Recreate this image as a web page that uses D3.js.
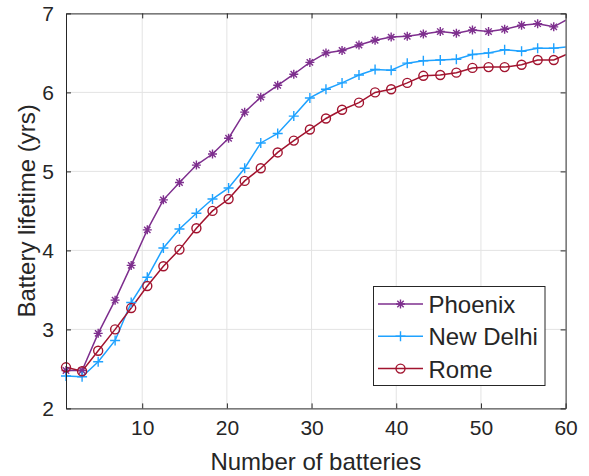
<!DOCTYPE html>
<html>
<head>
<meta charset="utf-8">
<script src="https://cdn.jsdelivr.net/npm/d3@7"></script>
<style>
  body { margin: 0; background: #fff; }
  text { font-family: "Liberation Sans", Arial, sans-serif; fill: #262626; }
</style>
</head>
<body>
<script>

const svgWidth = 589;
const svgHeight = 476;

// plot box edges (pixels)
const box = { left: 66, right: 565.6, top: 13.4, bottom: 408.4 };

// Data
const batteries = [1, 2.9, 4.8, 6.8, 8.7, 10.6, 12.5, 14.4, 16.4, 18.3, 20.2, 22.1, 24.0, 26.0, 27.9, 29.8,
                   31.7, 33.6, 35.6, 37.5, 39.4, 41.3, 43.2, 45.2, 47.1, 49.0, 50.9, 52.8, 54.8, 56.7, 58.6, 60.5];
const phoenix = [2.48, 2.48, 2.95, 3.37, 3.81, 4.26, 4.64, 4.86, 5.08, 5.22, 5.42, 5.75, 5.94, 6.09, 6.23, 6.38,
                 6.50, 6.53, 6.60, 6.66, 6.70, 6.71, 6.74, 6.77, 6.75, 6.79, 6.77, 6.80, 6.85, 6.87, 6.83, 6.94];
const newDelhi = [2.41, 2.40, 2.59, 2.86, 3.34, 3.66, 4.03, 4.27, 4.47, 4.65, 4.79, 5.04, 5.36, 5.48, 5.70, 5.93,
                  6.04, 6.12, 6.22, 6.29, 6.28, 6.37, 6.40, 6.41, 6.42, 6.48, 6.50, 6.54, 6.52, 6.56, 6.56, 6.58];
const rome = [2.52, 2.47, 2.73, 3.00, 3.27, 3.55, 3.80, 4.01, 4.28, 4.50, 4.65, 4.88, 5.04, 5.24, 5.39, 5.53,
              5.67, 5.78, 5.87, 6.00, 6.04, 6.12, 6.21, 6.22, 6.25, 6.31, 6.32, 6.32, 6.35, 6.41, 6.41, 6.50];

const xTicks = [10, 20, 30, 40, 50, 60];
const yTicks = [2, 3, 4, 5, 6, 7];

const series = [
  { name: "Phoenix", values: phoenix, color: "#7E2F8E", marker: "star" },
  { name: "New Delhi", values: newDelhi, color: "#1FA2FF", marker: "plus" },
  { name: "Rome", values: rome, color: "#A2142F", marker: "circle" }
];

const svg = d3.select("body")
  .append("svg")
  .attr("width", svgWidth)
  .attr("height", svgHeight);

const xScale = d3.scaleLinear().domain([1, 60]).range([box.left, box.right]);
const yScale = d3.scaleLinear().domain([2, 7]).range([box.bottom, box.top]);

// grid
const grid = svg.append("g").attr("stroke", "#e3e3e3").attr("stroke-width", 1);
grid.selectAll(".gx").data(xTicks.slice(0, -1)).enter().append("line")
  .attr("x1", d => xScale(d)).attr("x2", d => xScale(d))
  .attr("y1", box.top).attr("y2", box.bottom);
grid.selectAll(".gy").data(yTicks.slice(1, -1)).enter().append("line")
  .attr("x1", box.left).attr("x2", box.right)
  .attr("y1", d => yScale(d)).attr("y2", d => yScale(d));

// clip to the box
svg.append("clipPath").attr("id", "clip")
  .append("rect")
  .attr("x", box.left).attr("y", box.top)
  .attr("width", box.right - box.left).attr("height", box.bottom - box.top);

const line = d3.line()
  .x((d, i) => xScale(batteries[i]))
  .y(d => yScale(d));

function drawMarker(g, type, color) {
  if (type === "circle") {
    g.append("circle").attr("r", 4.5).attr("fill", "none")
      .attr("stroke", color).attr("stroke-width", 1.4);
  } else if (type === "plus") {
    g.append("path").attr("d", "M-5,0H5M0,-5V5")
      .attr("stroke", color).attr("stroke-width", 1.4);
  } else {
    g.append("path").attr("d", "M-4.5,0H4.5M0,-4.5V4.5M-3.2,-3.2L3.2,3.2M-3.2,3.2L3.2,-3.2")
      .attr("stroke", color).attr("stroke-width", 1.4);
  }
}

const plotArea = svg.append("g").attr("clip-path", "url(#clip)");

series.forEach(s => {
  plotArea.append("path")
    .datum(s.values)
    .attr("d", line)
    .attr("fill", "none")
    .attr("stroke", s.color)
    .attr("stroke-width", 1.5);
});

// markers drawn after lines, only those inside the x range
series.forEach(s => {
  s.values.forEach((v, i) => {
    if (batteries[i] > 60) return;
    const g = svg.append("g")
      .attr("transform", `translate(${xScale(batteries[i])},${yScale(v)})`);
    drawMarker(g, s.marker, s.color);
  });
});

// axes (box with inward ticks on all sides)
const axisColor = "#262626";
const tickLen = 5;

const bottomAxis = d3.axisBottom(xScale).tickValues(xTicks).tickSize(-tickLen).tickSizeOuter(0).tickPadding(12);
const topAxis = d3.axisTop(xScale).tickValues(xTicks).tickSize(-tickLen).tickSizeOuter(0).tickFormat("");
const leftAxis = d3.axisLeft(yScale).tickValues(yTicks).tickSize(-tickLen).tickSizeOuter(0)
  .tickFormat(d3.format("d")).tickPadding(12);
const rightAxis = d3.axisRight(yScale).tickValues(yTicks).tickSize(-tickLen).tickSizeOuter(0).tickFormat("");

function styleAxis(g) {
  g.select(".domain").attr("stroke", axisColor);
  g.selectAll(".tick line").attr("stroke", axisColor);
  g.selectAll(".tick text")
    .attr("fill", axisColor)
    .style("font-size", "21px")
    .style("font-family", "'Liberation Sans', Arial, sans-serif");
}

svg.append("g").attr("transform", `translate(0,${box.bottom})`).call(bottomAxis).call(styleAxis);
svg.append("g").attr("transform", `translate(0,${box.top})`).call(topAxis).call(styleAxis);
svg.append("g").attr("transform", `translate(${box.left},0)`).call(leftAxis).call(styleAxis);
svg.append("g").attr("transform", `translate(${box.right},0)`).call(rightAxis).call(styleAxis);

// axis titles
svg.append("text")
  .attr("x", (box.left + box.right) / 2)
  .attr("y", 470)
  .attr("text-anchor", "middle")
  .style("font-size", "24px")
  .text("Number of batteries");

svg.append("text")
  .attr("transform", `translate(35,${(box.top + box.bottom) / 2}) rotate(-90)`)
  .attr("text-anchor", "middle")
  .style("font-size", "24px")
  .text("Battery lifetime (yrs)");

// legend
const legend = svg.append("g");
legend.append("rect")
  .attr("x", 373.5).attr("y", 286.5)
  .attr("width", 171.5).attr("height", 99)
  .attr("fill", "#fff").attr("stroke", axisColor).attr("stroke-width", 1);

series.forEach((s, i) => {
  const cy = 304 + i * 32.3;
  legend.append("line")
    .attr("x1", 378).attr("x2", 423)
    .attr("y1", cy).attr("y2", cy)
    .attr("stroke", s.color).attr("stroke-width", 1.5);
  const g = legend.append("g").attr("transform", `translate(400.5,${cy})`);
  drawMarker(g, s.marker, s.color);
  legend.append("text")
    .attr("x", 428.5).attr("y", cy + 9)
    .style("font-size", "24px")
    .text(s.name);
});

</script>
</body>
</html>
